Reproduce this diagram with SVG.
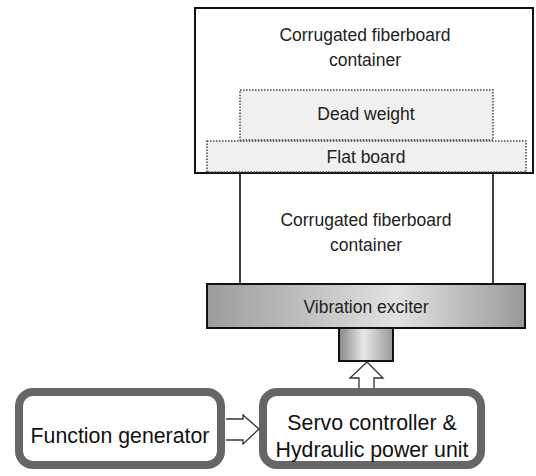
<svg xmlns="http://www.w3.org/2000/svg" width="536" height="476" viewBox="0 0 536 476">
<defs>
<style>
text{font-family:"Liberation Sans",Arial,sans-serif;fill:#222;text-anchor:middle}
.t{font-size:17.5px}
.b{font-size:21.3px;fill:#111}
.dot{fill:#f0f0f0;stroke:#444;stroke-width:1.5;stroke-dasharray:1.5 1.5}
.ctrl{fill:#fff;stroke:#666;stroke-width:8}
.arr{fill:#fff;stroke:#333;stroke-width:1.3;stroke-linejoin:miter}
</style>
<linearGradient id="g" x1="0" y1="0" x2="1" y2="0">
<stop offset="0" stop-color="#9c9c9c"/>
<stop offset="0.6" stop-color="#e2e2e2"/>
<stop offset="1" stop-color="#999"/>
</linearGradient>
<linearGradient id="g2" x1="0" y1="0" x2="1" y2="0">
<stop offset="0" stop-color="#888"/>
<stop offset="0.45" stop-color="#e8e8e8"/>
<stop offset="1" stop-color="#999"/>
</linearGradient>
</defs>
<g id="top-container">
<rect x="195" y="8" width="338" height="165" fill="#fff" stroke="#111" stroke-width="2"/>
<text class="t" x="365" y="41">Corrugated fiberboard</text>
<text class="t" x="365" y="66">container</text>
</g>
<g id="dead-weight">
<rect class="dot" x="240" y="90" width="253" height="50"/>
<text class="t" x="366" y="120">Dead weight</text>
</g>
<g id="flat-board">
<rect class="dot" x="207" y="141" width="319" height="31"/>
<text class="t" x="366" y="163">Flat board</text>
</g>
<g id="bottom-container">
<line x1="240" y1="173" x2="240" y2="284" stroke="#111" stroke-width="1.6"/>
<line x1="493" y1="173" x2="493" y2="284" stroke="#111" stroke-width="1.6"/>
<text class="t" x="366" y="226">Corrugated fiberboard</text>
<text class="t" x="366" y="251">container</text>
</g>
<g id="vibration-exciter">
<rect x="207" y="284" width="318" height="44" fill="url(#g)" stroke="#111" stroke-width="2"/>
<text class="t" x="366" y="313">Vibration exciter</text>
<rect x="339" y="328" width="54" height="33" fill="url(#g2)" stroke="#111" stroke-width="2"/>
</g>
<g id="function-generator">
<rect class="ctrl" x="19" y="392" width="202" height="73" rx="14"/>
<text class="b" x="120" y="443">Function generator</text>
</g>
<g id="servo-controller">
<rect class="ctrl" x="263" y="392" width="218" height="73" rx="14"/>
<text class="b" x="372" y="430">Servo controller &amp;</text>
<text class="b" x="372" y="457">Hydraulic power unit</text>
</g>
<g id="connectors">
<path class="arr" d="M226,419 H243 V415 L259,429 L243,444 V440 H226"/>
<path class="arr" d="M359,388 V378 H350 L367,362 L383,378 H374 V388"/>
</g>
</svg>
